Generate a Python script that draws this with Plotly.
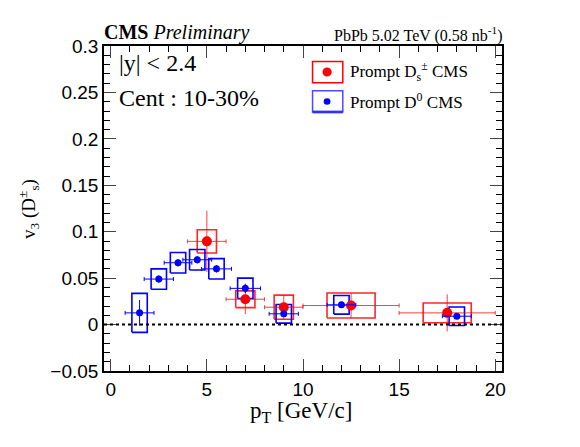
import plotly.graph_objects as go

# Prompt Ds v3 (red)
ds_pt = [5.0, 7.0, 9.0, 12.5, 17.5]
ds_v3 = [0.0896, 0.0273, 0.0187, 0.0205, 0.0126]
ds_xerr = [1.0, 1.0, 1.0, 2.5, 2.5]
ds_stat = [0.033, 0.016, 0.013, 0.0135, 0.020]
ds_sys = [0.0125, 0.009, 0.013, 0.0135, 0.0106]

# Prompt D0 v3 (blue)
d0_pt = [1.5, 2.5, 3.5, 4.5, 5.5, 7.0, 9.0, 12.0, 18.0]
d0_v3 = [0.0126, 0.049, 0.0666, 0.0698, 0.060, 0.039, 0.0116, 0.0213, 0.009]
d0_xerr = [0.75, 0.76, 0.72, 0.75, 0.78, 0.79, 0.76, 0.75, 0.75]
d0_stat = [0.014, 0.004, 0.004, 0.004, 0.004, 0.005, 0.003, 0.003, 0.003]
d0_sys = [0.021, 0.011, 0.011, 0.011, 0.011, 0.011, 0.010, 0.010, 0.010]

RED = "#ff0000"
BLUE = "#0000ff"


def box_path(xs, ys, hw, hh):
    # rectangles for the systematic uncertainties
    bx, by = [], []
    for x, y, w, h in zip(xs, ys, hw, hh):
        bx += [x - w, x + w, x + w, x - w, x - w, None]
        by += [y - h, y - h, y + h, y + h, y - h, None]
    return bx, by


fig = go.Figure()

rx, ry = box_path(ds_pt, ds_v3, [e / 2 for e in ds_xerr], ds_sys)
fig.add_trace(go.Scatter(x=rx, y=ry, mode="lines",
                         line=dict(color="rgba(255,0,0,0.85)", width=1.6),
                         hoverinfo="skip", showlegend=False))
bx, by = box_path(d0_pt, d0_v3, [0.4] * len(d0_pt), d0_sys)
fig.add_trace(go.Scatter(x=bx, y=by, mode="lines",
                         line=dict(color=BLUE, width=1.6),
                         hoverinfo="skip", showlegend=False))

fig.add_trace(go.Scatter(
    x=ds_pt, y=ds_v3, mode="markers", name="Prompt Ds CMS",
    marker=dict(color=RED, size=10),
    error_x=dict(type="data", array=ds_xerr, color="rgba(255,0,0,0.75)", thickness=1, width=2),
    error_y=dict(type="data", array=ds_stat, color="rgba(255,0,0,0.75)", thickness=1, width=0),
    showlegend=False))
fig.add_trace(go.Scatter(
    x=d0_pt, y=d0_v3, mode="markers", name="Prompt D0 CMS",
    marker=dict(color=BLUE, size=7),
    error_x=dict(type="data", array=d0_xerr, color=BLUE, thickness=1, width=2),
    error_y=dict(type="data", array=d0_stat, color=BLUE, thickness=1, width=0),
    showlegend=False))

tickfont = dict(family="Liberation Sans, Arial", size=19, color="black")
fig.update_xaxes(range=[-0.35, 20.35], tick0=0, dtick=5, ticks="inside", ticklen=12,
                 tickwidth=1, mirror="ticks", showline=True, linecolor="black", linewidth=1.5,
                 showgrid=False, zeroline=False, tickfont=tickfont,
                 minor=dict(ticks="inside", dtick=1, ticklen=6, tickcolor="black"))
fig.update_yaxes(range=[-0.05, 0.3], tick0=0, dtick=0.05, ticks="inside", ticklen=12,
                 tickwidth=1, mirror="ticks", showline=True, linecolor="black", linewidth=1.5,
                 showgrid=False, zeroline=False, tickfont=tickfont,
                 minor=dict(ticks="inside", dtick=0.01, ticklen=6, tickcolor="black"))

serif = "Liberation Serif, Times New Roman, serif"
ann = [
    dict(x=-0.005, y=1.04, xanchor="left", yanchor="middle",
         text="<b>CMS</b> <i>Preliminary</i>", font=dict(family=serif, size=20)),
    dict(x=1.008, y=1.036, xanchor="right", yanchor="middle",
         text="PbPb 5.02 TeV (0.58 nb<sup>-1</sup>)", font=dict(family=serif, size=16)),
    dict(x=0.033, y=0.948, xanchor="left", yanchor="middle",
         text="|y| < 2.4", font=dict(family=serif, size=24)),
    dict(x=0.033, y=0.84, xanchor="left", yanchor="middle",
         text="Cent : 10-30%", font=dict(family=serif, size=24)),
    dict(x=0.613, y=0.92, xanchor="left", yanchor="middle",
         text="Prompt D<sub>s</sub><sup>±</sup> CMS", font=dict(family=serif, size=17)),
    dict(x=0.613, y=0.831, xanchor="left", yanchor="middle",
         text="Prompt D<sup>0</sup> CMS", font=dict(family=serif, size=17)),
    dict(x=0.495, y=-0.126, xanchor="center", yanchor="middle",
         text="p<sub>T</sub> [GeV/c]", font=dict(family=serif, size=23)),
    dict(x=-0.19, y=0.5, xanchor="center", yanchor="middle", textangle=-90,
         text="v<sub>3</sub> (D<sup>±</sup><sub>s</sub>)", font=dict(family=serif, size=19)),
]
for a in ann:
    a.update(xref="paper", yref="paper", showarrow=False)
    a["font"]["color"] = "black"

# zero line
fig.add_hline(y=0, line=dict(color="black", width=2, dash="dot"))

# hand-drawn legend boxes
legend_shapes = [
    dict(type="rect", x0=0.524, x1=0.600, y0=0.887, y1=0.952,
         line=dict(color=RED, width=1.5)),
    dict(type="circle", x0=0.549, x1=0.572, y0=0.906, y1=0.934,
         fillcolor=RED, line=dict(color=RED, width=0)),
    dict(type="rect", x0=0.524, x1=0.600, y0=0.797, y1=0.862,
         line=dict(color="rgba(0,0,255,0.7)", width=1.5)),
    dict(type="line", x0=0.524, x1=0.600, y0=0.797, y1=0.797,
         line=dict(color="rgba(0,0,255,0.6)", width=3)),
    dict(type="circle", x0=0.552, x1=0.569, y0=0.819, y1=0.839,
         fillcolor=BLUE, line=dict(color=BLUE, width=0)),
]
for s in legend_shapes:
    fig.add_shape(xref="paper", yref="paper", **s)

# page body adds an 8px offset, so the figure is 8px smaller each way
fig.update_layout(
    width=572, height=439,
    margin=dict(l=96, r=78, t=38, b=76),
    plot_bgcolor="white", paper_bgcolor="white",
    annotations=ann,
)

fig.write_html("out.html")
